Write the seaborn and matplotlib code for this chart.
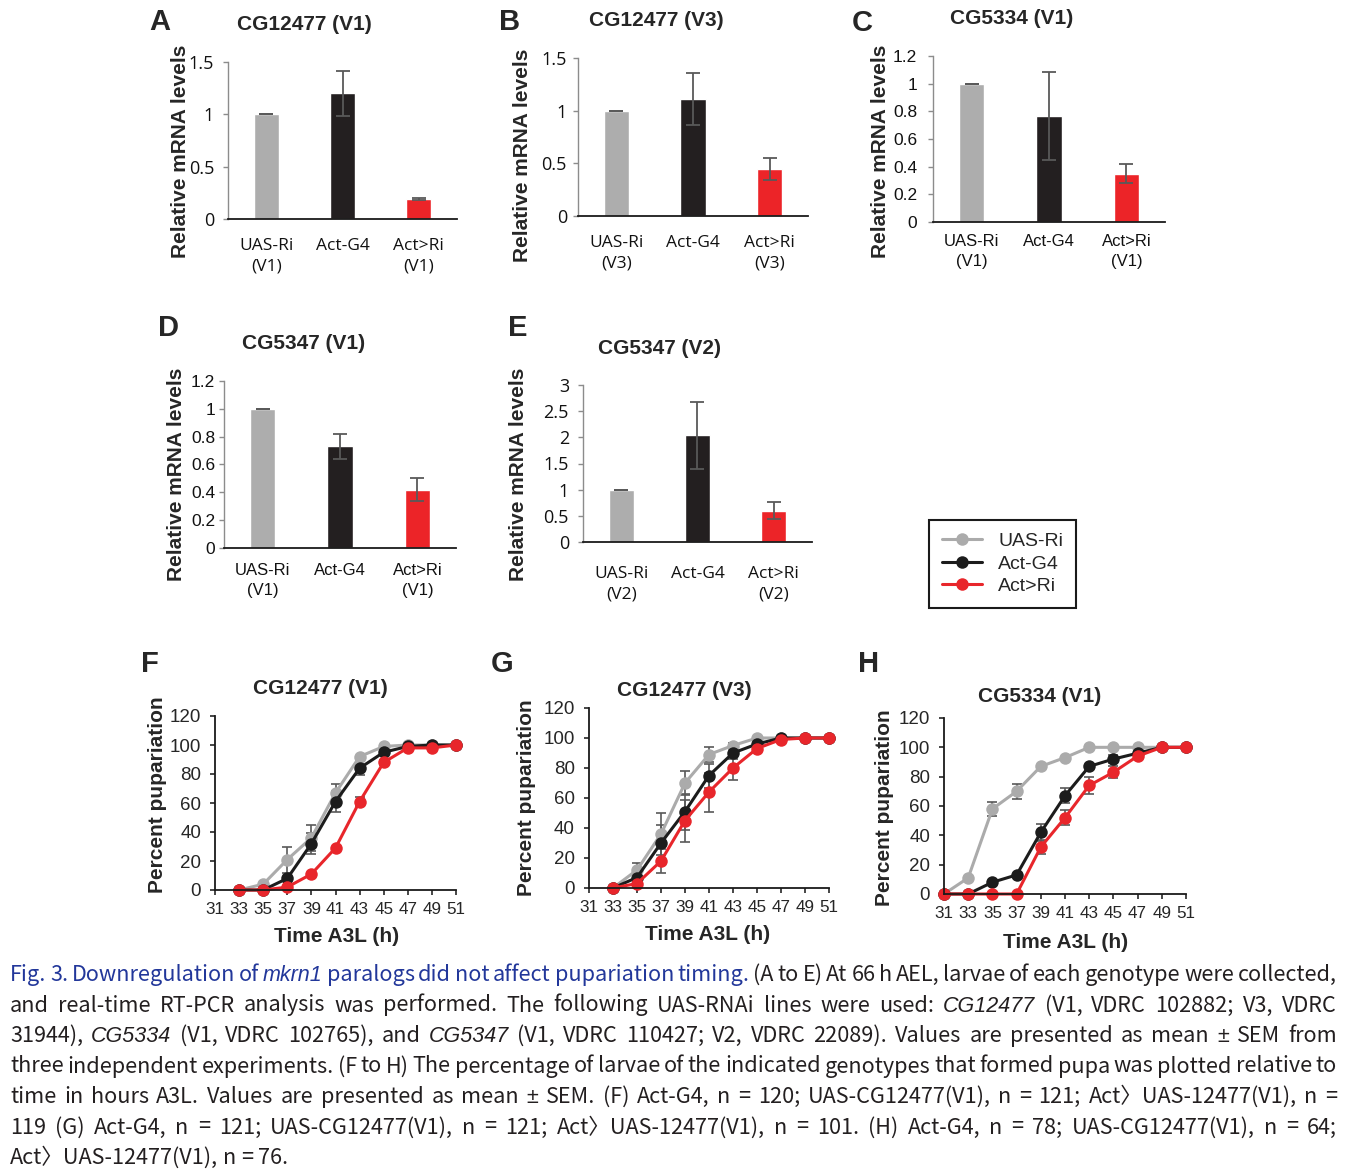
import matplotlib
matplotlib.use('Agg')
import matplotlib.pyplot as plt
from matplotlib.lines import Line2D
import pandas as pd
import seaborn as sns

W, H = 1357, 1174

genotypes = ['UAS-Ri', 'Act-G4', 'Act>Ri']

# relative mRNA levels (mean, SEM), panels A-E
a_mean = [1.00, 1.20, 0.19]
a_sem = [0.0, 0.215, 0.012]
b_mean = [1.00, 1.11, 0.45]
b_sem = [0.0, 0.25, 0.105]
c_mean = [1.00, 0.765, 0.35]
c_sem = [0.0, 0.317, 0.07]
d_mean = [1.00, 0.73, 0.42]
d_sem = [0.0, 0.087, 0.084]
e_mean = [1.00, 2.04, 0.60]
e_sem = [0.0, 0.64, 0.165]

ticks_15 = [0, 0.5, 1, 1.5]
ticks_12 = [0, 0.2, 0.4, 0.6, 0.8, 1, 1.2]
ticks_3 = [0, 0.5, 1, 1.5, 2, 2.5, 3]

# percent pupariation (mean, SEM), panels F-H
f_time = [33, 35, 37, 39, 41, 43, 45, 47, 49, 51]
f_uas = [0, 4, 21, 36, 67, 92, 99, 100, 100, 100]
f_uas_sem = [0, 0, 9, 9, 6, 0, 0, 0, 0, 0]
f_act = [0, 0, 8, 32, 61, 84, 95, 99, 100, 100]
f_act_sem = [0, 0, 0, 7, 7, 5, 0, 0, 0, 0]
f_ri = [0, 0, 2, 11, 29, 61, 88, 98, 98, 100]
f_ri_sem = [0, 0, 0, 0, 0, 3, 2, 0, 0, 0]

g_time = [33, 35, 37, 39, 41, 43, 45, 47, 49, 51]
g_uas = [0, 12, 36, 70, 89, 95, 100, 100, 100, 100]
g_uas_sem = [0, 5, 14, 8, 5, 2, 0, 0, 0, 0]
g_act = [0, 7, 30, 51, 75, 90, 96, 100, 100, 100]
g_act_sem = [0, 0, 12, 12, 8, 4, 0, 0, 0, 0]
g_ri = [0, 3, 18, 45, 64, 80, 93, 99, 100, 100]
g_ri_sem = [0, 0, 8, 14, 13, 8, 0, 0, 0, 0]

h_time = [31, 33, 35, 37, 39, 41, 43, 45, 47, 49, 51]
h_uas = [0, 11, 58, 70, 87, 93, 100, 100, 100, 100, 100]
h_uas_sem = [0, 0, 5, 5, 0, 0, 0, 0, 0, 0, 0]
h_act = [0, 0, 8, 13, 42, 67, 87, 92, 96, 100, 100]
h_act_sem = [0, 0, 0, 0, 6, 5, 0, 3, 0, 0, 0]
h_ri = [0, 0, 0, 0, 32, 52, 74, 83, 94, 100, 100]
h_ri_sem = [0, 0, 0, 0, 5, 5, 6, 4, 0, 0, 0]

time_ticks = [31, 33, 35, 37, 39, 41, 43, 45, 47, 49, 51]
pct_ticks = [0, 20, 40, 60, 80, 100, 120]

caption_lines = [
    [('head', 'Fig. 3. Downregulation of'), ('headit', 'mkrn1'),
     ('head', 'paralogs did not affect pupariation timing.'),
     ('body', '(A to E) At 66 h AEL, larvae of each genotype were collected,')],
    [('body', 'and real-time RT-PCR analysis was performed. The following UAS-RNAi lines were used:'),
     ('it', 'CG12477'), ('body', '(V1, VDRC 102882; V3, VDRC')],
    [('body', '31944),'), ('it', 'CG5334'), ('body', '(V1, VDRC 102765), and'), ('it', 'CG5347'),
     ('body', '(V1, VDRC 110427; V2, VDRC 22089). Values are presented as mean ± SEM from')],
    [('body', 'three independent experiments. (F to H) The percentage of larvae of the indicated '
              'genotypes that formed pupa was plotted relative to')],
    [('body', 'time in hours A3L. Values are presented as mean ± SEM. (F) Act-G4, n = 120; '
              'UAS-CG12477(V1), n = 121; Act〉UAS-12477(V1), n =')],
    [('body', '119 (G) Act-G4, n = 121; UAS-CG12477(V1), n = 121; Act〉UAS-12477(V1), n = 101. '
              '(H) Act-G4, n = 78; UAS-CG12477(V1), n = 64;')],
    [('body', 'Act〉UAS-12477(V1), n = 76.')],
]

bar_palette = {'UAS-Ri': '#adadad', 'Act-G4': '#231f20', 'Act>Ri': '#ec2428'}
line_palette = {'UAS-Ri': '#ababab', 'Act-G4': '#1c1c1c', 'Act>Ri': '#e8262b'}
ERR = '#595959'

sns.set_style('ticks')
plt.rcParams['font.family'] = ['Liberation Sans', 'DejaVu Sans']

fig = plt.figure(figsize=(W / 100, H / 100), dpi=100)


def pt(px):
    return px * 72 / 100


def add_axes(rect):
    l, t, r, b = rect
    return fig.add_axes([l / W, 1 - b / H, (r - l) / W, (b - t) / H])


def ftext(x, y, s, **kw):
    fig.text(x / W, 1 - y / H, s, ha='center', va='center', **kw)


def place_label(ax, rect, which, xy):
    l, t, r, b = rect
    fx = (xy[0] - l) / (r - l)
    fy = (b - xy[1]) / (b - t)
    axis = ax.yaxis if which == 'y' else ax.xaxis
    axis.set_label_coords(fx, fy)
    axis.label.set_verticalalignment('center')


def bar_panel(rect, letter, letter_xy, title, title_xy, mean, sem, yticks, line,
              font, fs, ylab_xy, ygap, xgap):
    ax = add_axes(rect)
    df = pd.DataFrame({'genotype': genotypes, 'level': mean})
    sns.barplot(data=df, x='genotype', y='level', hue='genotype', palette=bar_palette,
                saturation=1, width=0.33, errorbar=None, legend=False, ax=ax)
    ax.errorbar(range(len(genotypes)), mean, yerr=sem, fmt='none', ecolor=ERR,
                elinewidth=1.3, capsize=5, capthick=1.3, zorder=3)
    ax.set_xlim(-0.5, 2.5)
    ax.set_ylim(yticks[0], yticks[-1])
    ax.set_yticks(yticks, [f'{v:g}' for v in yticks], fontfamily=font, fontsize=fs)
    ax.set_xticks(range(3), [f'UAS-Ri\n({line})', 'Act-G4', f'Act>Ri\n({line})'],
                  fontfamily=font, fontsize=fs - 0.5, linespacing=1.38)
    sns.despine(ax=ax)
    ax.spines['left'].set_color('#8c8c8c')
    ax.spines['left'].set_linewidth(1.0)
    ax.spines['bottom'].set_color('#1a1a1a')
    ax.spines['bottom'].set_linewidth(1.3)
    ax.tick_params(axis='y', direction='out', length=pt(5), width=1, color='#8c8c8c',
                   pad=pt(ygap - 5), labelcolor='#111111')
    ax.tick_params(axis='x', length=0, pad=pt(xgap), labelcolor='#111111')
    ax.set_xlabel('')
    ax.set_ylabel('Relative mRNA levels', fontsize=15, fontweight='bold')
    place_label(ax, rect, 'y', ylab_xy)
    ftext(*letter_xy, letter, fontsize=21, fontweight='bold')
    ftext(*title_xy, title, fontsize=15, fontweight='bold')


def line_panel(rect, letter, letter_xy, title, title_xy, time, series, sems,
               ylab_xy, xlab_xy):
    ax = add_axes(rect)
    df = pd.DataFrame({
        'time': time * 3,
        'pct': [v for s in series for v in s],
        'err': [v for s in sems for v in s],
        'genotype': [g for g in genotypes for _ in time],
    })
    for g in genotypes:
        sub = df[(df['genotype'] == g) & (df['err'] > 0)]
        ax.errorbar(sub['time'], sub['pct'], yerr=sub['err'], fmt='none', ecolor=ERR,
                    elinewidth=1.2, capsize=3.5, capthick=1.2, zorder=1.5, clip_on=False)
    sns.lineplot(data=df, x='time', y='pct', hue='genotype', hue_order=genotypes,
                 palette=line_palette, marker='o', markersize=9, markeredgewidth=0,
                 linewidth=2.2, legend=False, errorbar=None, ax=ax, clip_on=False)
    ax.set_xlim(31, 51)
    ax.set_ylim(0, 120)
    ax.set_xticks(time_ticks)
    ax.set_yticks(pct_ticks)
    sns.despine(ax=ax)
    for s in ('left', 'bottom'):
        ax.spines[s].set_color('#1a1a1a')
        ax.spines[s].set_linewidth(1.3)
    ax.tick_params(axis='y', direction='out', length=pt(5), width=1.2, pad=pt(9),
                   labelsize=13.5)
    ax.tick_params(axis='x', direction='out', length=pt(5), width=1.2, pad=pt(7),
                   labelsize=12.3)
    ax.set_ylabel('Percent pupariation', fontsize=15, fontweight='bold')
    ax.set_xlabel('Time A3L (h)', fontsize=15, fontweight='bold')
    place_label(ax, rect, 'y', ylab_xy)
    place_label(ax, rect, 'x', xlab_xy)
    ftext(*letter_xy, letter, fontsize=21, fontweight='bold')
    ftext(*title_xy, title, fontsize=15, fontweight='bold')


bar_panel((228, 62, 457, 219), 'A', (160, 22), 'CG12477 (V1)', (304, 24), a_mean, a_sem,
          ticks_15, 'V1', 'Open Sans', 13, (181, 151), 14, 19)
bar_panel((578, 58, 808, 216), 'B', (510, 22), 'CG12477 (V3)', (656, 21), b_mean, b_sem,
          ticks_15, 'V3', 'Open Sans', 13, (523, 155), 11, 19)
bar_panel((933, 56, 1165, 222), 'C', (862, 23), 'CG5334 (V1)', (1012, 19), c_mean, c_sem,
          ticks_12, 'V1', 'Liberation Sans', 12.5, (880, 151), 16, 12)
bar_panel((224, 381, 456, 548), 'D', (168, 328), 'CG5347 (V1)', (304, 343), d_mean, d_sem,
          ticks_12, 'V1', 'Liberation Sans', 12.5, (176, 474), 9, 15)
bar_panel((583, 385, 812, 542), 'E', (518, 328), 'CG5347 (V2)', (659, 348), e_mean, e_sem,
          ticks_3, 'V2', 'Open Sans', 13, (518, 474), 14, 24)

line_panel((215, 716, 456, 890), 'F', (150, 664), 'CG12477 (V1)', (320, 689), f_time,
           [f_uas, f_act, f_ri], [f_uas_sem, f_act_sem, f_ri_sem], (157, 795), (337, 936))
line_panel((589, 708, 829, 888), 'G', (502, 664), 'CG12477 (V3)', (684, 691), g_time,
           [g_uas, g_act, g_ri], [g_uas_sem, g_act_sem, g_ri_sem], (527, 798), (708, 935))
line_panel((944, 718, 1186, 894), 'H', (869, 664), 'CG5334 (V1)', (1040, 696), h_time,
           [h_uas, h_act, h_ri], [h_uas_sem, h_act_sem, h_ri_sem], (884, 808), (1066, 942))

handles = [Line2D([], [], color=line_palette[g], marker='o', markersize=9, mew=0, lw=2.2)
           for g in genotypes]
leg = fig.legend(handles, genotypes, loc='upper left', bbox_to_anchor=(929 / W, 1 - 520 / H),
                 frameon=True, fancybox=False, edgecolor='#1a1a1a', framealpha=1,
                 prop={'family': 'Liberation Sans', 'size': 14}, handlelength=2.1,
                 handletextpad=0.82, labelspacing=0.25, borderpad=0.65, borderaxespad=0)
leg.get_frame().set_linewidth(1.5)

# caption, justified word by word
cjk = ['Noto Sans CJK KR', 'DejaVu Sans']
blue = '#22379a'
cap_styles = {
    'body': dict(family=cjk, fontsize=15.6, color='#231f20'),
    'head': dict(family=cjk, fontsize=15.6, color=blue, fontweight='medium'),
    'it': dict(family=['Liberation Sans'], fontsize=15.5, style='italic', color='#231f20'),
    'headit': dict(family=['Liberation Sans'], fontsize=15.5, style='italic', color=blue),
    'sym': dict(family=['Liberation Sans'], fontsize=15.5, color='#231f20'),
}
cap_left, cap_right = 10, 1337
cap_base = [981, 1011.5, 1042, 1072.5, 1103, 1133.5, 1164]

renderer = fig.canvas.get_renderer()
probe = fig.text(0, 0, 'n n', **cap_styles['body'])
probe2 = fig.text(0, 0, 'nn', **cap_styles['body'])
space_w = probe.get_window_extent(renderer).width - probe2.get_window_extent(renderer).width
probe.remove()
probe2.remove()

for i, (line, yb) in enumerate(zip(caption_lines, cap_base)):
    words = [('sym' if w == '±' else s, w) for s, seg in line for w in seg.split(' ') if w]
    texts = [fig.text(0, 1 - yb / H, w, ha='left', va='baseline', **cap_styles[s])
             for s, w in words]
    widths = [t.get_window_extent(renderer).width for t in texts]
    if i < len(caption_lines) - 1:
        gap = (cap_right - cap_left - sum(widths)) / (len(words) - 1)
    else:
        gap = space_w
    x = cap_left
    for t, w in zip(texts, widths):
        t.set_x(x / W)
        x += w + gap

fig.savefig('out.png', dpi=100)
